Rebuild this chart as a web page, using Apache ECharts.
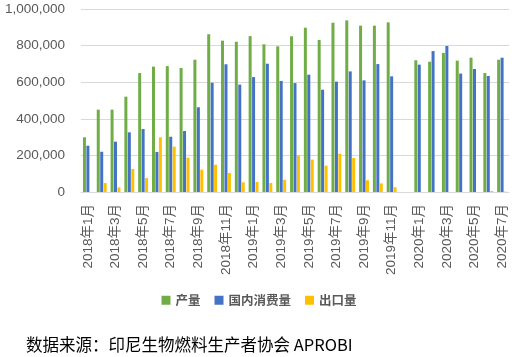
<!DOCTYPE html>
<html><head><meta charset="utf-8">
<script src="https://cdn.jsdelivr.net/npm/echarts@6/dist/echarts.min.js"></script>
<style>html,body{margin:0;padding:0;background:#fff}#c{width:518px;height:357px}</style>
</head><body><div id="c"></div>
<script>
const categories = [
 '2018年1月','2018年2月','2018年3月','2018年4月','2018年5月','2018年6月','2018年7月','2018年8月','2018年9月','2018年10月','2018年11月','2018年12月',
 '2019年1月','2019年2月','2019年3月','2019年4月','2019年5月','2019年6月','2019年7月','2019年8月','2019年9月','2019年10月','2019年11月','2019年12月',
 '2020年1月','2020年2月','2020年3月','2020年4月','2020年5月','2020年6月','2020年7月'];
const production = [299000,450000,450000,521000,650000,685000,688000,678000,723000,862000,827000,821000,
 852000,807000,796000,851000,898000,831000,925000,938000,909000,909000,927000,null,
 720000,712000,760000,718000,734000,650000,723000];
const domestic = [253000,220000,275000,326000,344000,219000,302000,333000,463000,597000,698000,587000,
 628000,701000,607000,595000,641000,559000,603000,659000,610000,699000,632000,null,
 696000,770000,798000,647000,672000,634000,734000];
const exports = [null,49000,25000,126000,76000,299000,248000,188000,122000,149000,104000,53000,
 55000,49000,67000,200000,177000,144000,209000,186000,64000,47000,26000,null,
 null,null,null,null,null,5000,2000];
const seriesNames = ['产量','国内消费量','出口量'];
const colors = ['#70AD47','#4472C4','#FFC000'];
const yTicks = [0,200000,400000,600000,800000,1000000];

const chart = echarts.init(document.getElementById('c'), null, {renderer:'canvas'});
const fmt = v => v.toLocaleString('en-US');
const mk = (name, data, i) => ({
  name, type:'bar', data, barWidth:3, barGap:'15%',
  itemStyle:{color:colors[i]}
});
chart.setOption({
  animation:false,
  color:colors,
  grid:{left:81,right:9,top:9,bottom:165},
  legend:{
    data:seriesNames, top:289, left:'center', itemWidth:9, itemHeight:9, itemGap:14,
    icon:'rect',
    textStyle:{color:'#595959', fontSize:12.5, fontWeight:'bold', fontFamily:'Noto Sans CJK SC'}
  },
  title:{
    text:'数据来源：印尼生物燃料生产者协会 APROBI', left:21, top:331,
    textStyle:{color:'#000', fontSize:16.5, fontWeight:'normal', fontFamily:'Noto Sans CJK SC'}
  },
  xAxis:{
    type:'category', data:categories,
    axisLine:{lineStyle:{color:'#D9D9D9'}},
    axisTick:{show:false},
    axisLabel:{interval:1, rotate:90, color:'#595959', fontSize:13.5, margin:12, fontFamily:'Liberation Sans, Noto Sans CJK SC'}
  },
  yAxis:{
    type:'value', min:0, max:1000000, interval:200000,
    axisLine:{show:false}, axisTick:{show:false},
    splitLine:{lineStyle:{color:'#D9D9D9'}},
    axisLabel:{formatter:v=>fmt(v), color:'#595959', fontSize:13.5, margin:16, fontFamily:'Liberation Sans'}
  },
  series:[mk(seriesNames[0],production,0), mk(seriesNames[1],domestic,1), mk(seriesNames[2],exports,2)]
});
</script></body></html>
